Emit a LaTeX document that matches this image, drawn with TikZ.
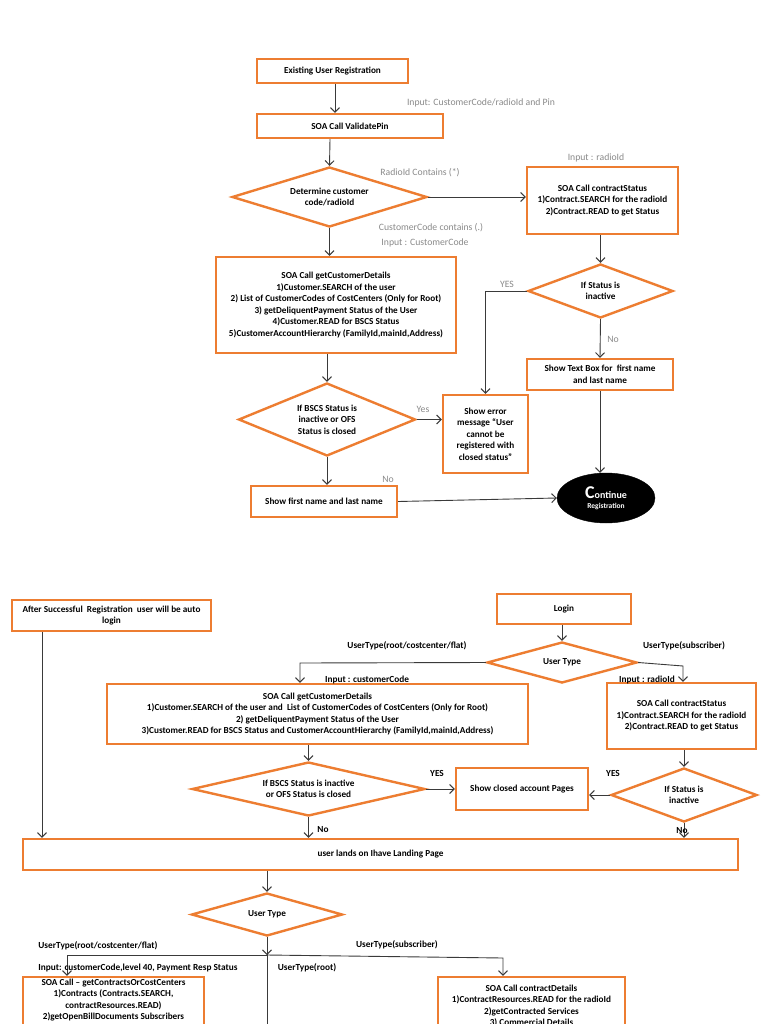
\documentclass[tikz,border=0pt]{standalone}
\usepackage{fontspec}
\setmainfont{Carlito}
\usetikzlibrary{shapes.geometric,arrows.meta,calc}
\definecolor{orng}{HTML}{ED7D31}
\definecolor{gry}{HTML}{8A8A8A}
\definecolor{lnc}{HTML}{3A3A3A}
\newcommand\fbx{\fontsize{9.2}{11.5}\selectfont\bfseries}
\newcommand\frg{\fontsize{9.7}{11.5}\selectfont}
\newcommand\fbl{\fontsize{9.3}{11.5}\selectfont\bfseries}
\tikzset{
  box/.style={draw=orng, line width=2.4pt, rectangle, inner sep=1pt, align=center, font=\fbx},
  dia/.style={draw=orng, line width=2.4pt, diamond, inner sep=0pt},
  lbl/.style={font=\fbx, align=center, inner sep=0pt},
  glbl/.style={text=gry, font=\frg, inner sep=0pt},
  blbl/.style={font=\fbl, inner sep=0pt},
  arr/.style={draw=lnc, line width=0.9pt, -{Straight Barb[length=4.5pt,width=9pt,line width=1pt]}},
  ln/.style={draw=lnc, line width=0.9pt},
}
\begin{document}
\begin{tikzpicture}[x=1pt,y=-1pt]
\useasboundingbox (0,0) rectangle (768,1024);
\clip (0,0) rectangle (768,1024);
\fill[white] (0,0) rectangle (768,1024);

% ---------- top flow ----------
\node[box, minimum width=151, minimum height=24] (b1) at (332.5,71) {Existing User Registration};
\node[box, minimum width=186, minimum height=24] (b2) at (350,126) {SOA Call ValidatePin};
\node[dia, minimum width=195, minimum height=60, label={[lbl]center:Determine customer\\code/radioId}] (d1) at (329.5,197) {};
\node[box, minimum width=151, minimum height=67] (b3) at (602.5,200.5) {SOA Call contractStatus\\1)Contract.SEARCH for the radioId\\2)Contract.READ to get Status};
\node[box, minimum width=240, minimum height=96] (b4) at (336,305) {SOA Call getCustomerDetails\\1)Customer.SEARCH of the user\\2) List of CustomerCodes of CostCenters (Only for Root)\\3) getDeliquentPayment Status of the User\\4)Customer.READ for BSCS Status\\5)CustomerAccountHierarchy (FamilyId,mainId,Address)};
\node[dia, minimum width=145, minimum height=54, label={[lbl]center:If Status is\\inactive}] (d2) at (600.5,291) {};
\node[box, minimum width=146, minimum height=31] (b5) at (600,374.5) {Show Text Box for \ first name\\and last name};
\node[ellipse, fill=black, draw=black, minimum width=98, minimum height=50, inner sep=0pt, align=center, text=white, font=\bfseries] (e1) at (606,498) {{\fontsize{18}{18}\selectfont C}{\fontsize{10}{10}\selectfont ontinue}\\[-2pt]{\fontsize{7.5}{9}\selectfont Registration}};
\node[dia, minimum width=177, minimum height=73, label={[lbl]center:If BSCS Status is\\inactive or OFS\\Status is closed}] (d3) at (327,419.5) {};
\node[box, minimum width=85, minimum height=78] (b6) at (485.5,434) {Show error\\message “User\\cannot be\\registered with\\closed status”};
\node[box, minimum width=146, minimum height=31] (b7) at (324,501.5) {Show first name and last name};

\draw[arr] ([xshift=2.5pt]b1.south) -- ([xshift=-15pt]b2.north);
\draw[arr] ([xshift=-20pt]b2.south) -- (d1.north);
\draw[arr] (d1.east) -- (d1.east -| b3.west);
\draw[arr] (d1.south) -- (d1.south |- b4.north);
\draw[arr] (b3.south -| d2.north) -- (d2.north);
\draw[arr] (d2.west) -- (d2.west -| b6.north) -- (b6.north);
\draw[arr] (d2.south) -- (b5.north);
\draw[arr] (b5.south) -- (b5.south |- e1.north);
\draw[arr] (d3.north |- b4.south) -- (d3.north);
\draw[arr] (d3.east) -- (d3.east -| b6.west);
\draw[arr] (d3.south) -- (d3.south |- b7.north);
\draw[arr] (b7.east) -- (e1.west);

\node[glbl] (g1) at (481,103) {Input: CustomerCode/radioId and Pin};
\node[glbl] (g2) at (420,173) {RadioId Contains (*)};
\node[glbl] (g3) at (596,158) {Input : radioId};
\node[glbl] (g4) at (431,228) {CustomerCode contains (.)};
\node[glbl] (g5) at (425,243) {Input : CustomerCode};
\node[glbl] (g6) at (507,284) {YES};
\node[glbl] (g7) at (613,339) {No};
\node[glbl] (g8) at (423,409) {Yes};
\node[glbl] (g9) at (388,479) {No};

% ---------- bottom flow ----------
\node[box, minimum width=199, minimum height=31] (b8) at (111.5,615.5) {After Successful \ Registration \ user will be auto\\login};
\node[box, minimum width=134, minimum height=30] (b9) at (564,609) {Login};
\node[dia, minimum width=150, minimum height=41, label={[lbl]center:User Type}] (d4) at (562,662.5) {};
\node[box, minimum width=421, minimum height=60] (b10) at (317.5,714) {SOA Call getCustomerDetails\\1)Customer.SEARCH of the user and \ List of CustomerCodes of CostCenters (Only for Root)\\2) getDeliquentPayment Status of the User\\3)Customer.READ for BSCS Status and CustomerAccountHierarchy (FamilyId,mainId,Address)};
\node[box, minimum width=149, minimum height=66] (b11) at (681.5,716) {SOA Call contractStatus\\1)Contract.SEARCH for the radioId\\2)Contract.READ to get Status};
\node[dia, minimum width=233, minimum height=54, label={[lbl]center:If BSCS Status is inactive\\or OFS Status is closed}] (d5) at (308.5,789) {};
\node[box, minimum width=132, minimum height=42] (b12) at (522,789) {Show closed account Pages};
\node[dia, minimum width=146, minimum height=54, label={[lbl]center:If Status is\\inactive}] (d6) at (684,795) {};
\node[box, minimum width=715, minimum height=31] (b13) at (380.5,854.5) {user lands on Ihave Landing Page};
\node[dia, minimum width=151, minimum height=43, label={[lbl]center:User Type}] (d7) at (267,914.5) {};
\node[box, minimum width=181, minimum height=93] (b14) at (113.5,1023.5) {};
\node[lbl, anchor=north] (t14) at ([yshift=-3pt]b14.north) {SOA Call -- getContractsOrCostCenters\\1)Contracts (Contracts.SEARCH,\\contractResources.READ)\\2)getOpenBillDocuments Subscribers};
\node[box, minimum width=187, minimum height=93] (b15) at (531.5,1023.5) {};
\node[lbl, anchor=north] (t15) at ([yshift=-9pt]b15.north) {SOA Call contractDetails\\1)ContractResources.READ for the radioId\\2)getContracted Services\\3) Commercial Details};

\coordinate (c1) at (300,663);
\coordinate (c2) at (683,666);
\coordinate (j) at (267,955);
\coordinate (jr) at (267,1030);
\coordinate (cl) at (67,955);
\coordinate (cr) at (503,958);

\draw[arr] (b9.south -| d4.north) -- (d4.north);
\draw[arr] (d4.west) -- (c1) -- (c1 |- b10.north);
\draw[arr] (d4.east) -- (c2) -- (c2 |- b11.north);
\draw[arr] (d5.north |- b10.south) -- (d5.north);
\draw[arr] (d6.north |- b11.south) -- (d6.north);
\draw[arr] (d5.east) -- (d5.east -| b12.west);
\draw[arr] (d6.west) -- (d6.west -| b12.east);
\draw[arr] (d5.south) -- (d5.south |- b13.north);
\draw[arr] (d6.south) -- (d6.south |- b13.north);
\draw[arr] ([xshift=-69.5pt]b8.south) -- ([xshift=-69.5pt]b8.south |- b13.north);
\draw[arr] (d7.north |- b13.south) -- (d7.north);
\draw[ln] (d7.south) -- (jr);
\draw[arr] (d7.south) -- (j);
\draw[arr] (j) -- (cl) -- (cl |- b14.north);
\draw[arr] (j) -- (cr) -- (cr |- b15.north);

\node[blbl] (k1) at (407,646) {UserType(root/costcenter/flat)};
\node[blbl] (k2) at (684,646) {UserType(subscriber)};
\node[blbl] (k3) at (367,680) {Input : customerCode};
\node[blbl] (k4) at (647,680) {Input : radioId};
\node[blbl] (k5) at (437,773) {YES};
\node[blbl] (k6) at (613,773) {YES};
\node[blbl] (k7) at (323,830) {No};
\node[blbl] (k8) at (682,831) {No};
\node[blbl] (k9) at (98,946) {UserType(root/costcenter/flat)};
\node[blbl] (k10) at (397,945) {UserType(subscriber)};
\node[blbl] (k11) at (138,968) {Input: customerCode,level 40, Payment Resp Status};
\node[blbl] (k12) at (307,968) {UserType(root)};
\end{tikzpicture}
\end{document}
